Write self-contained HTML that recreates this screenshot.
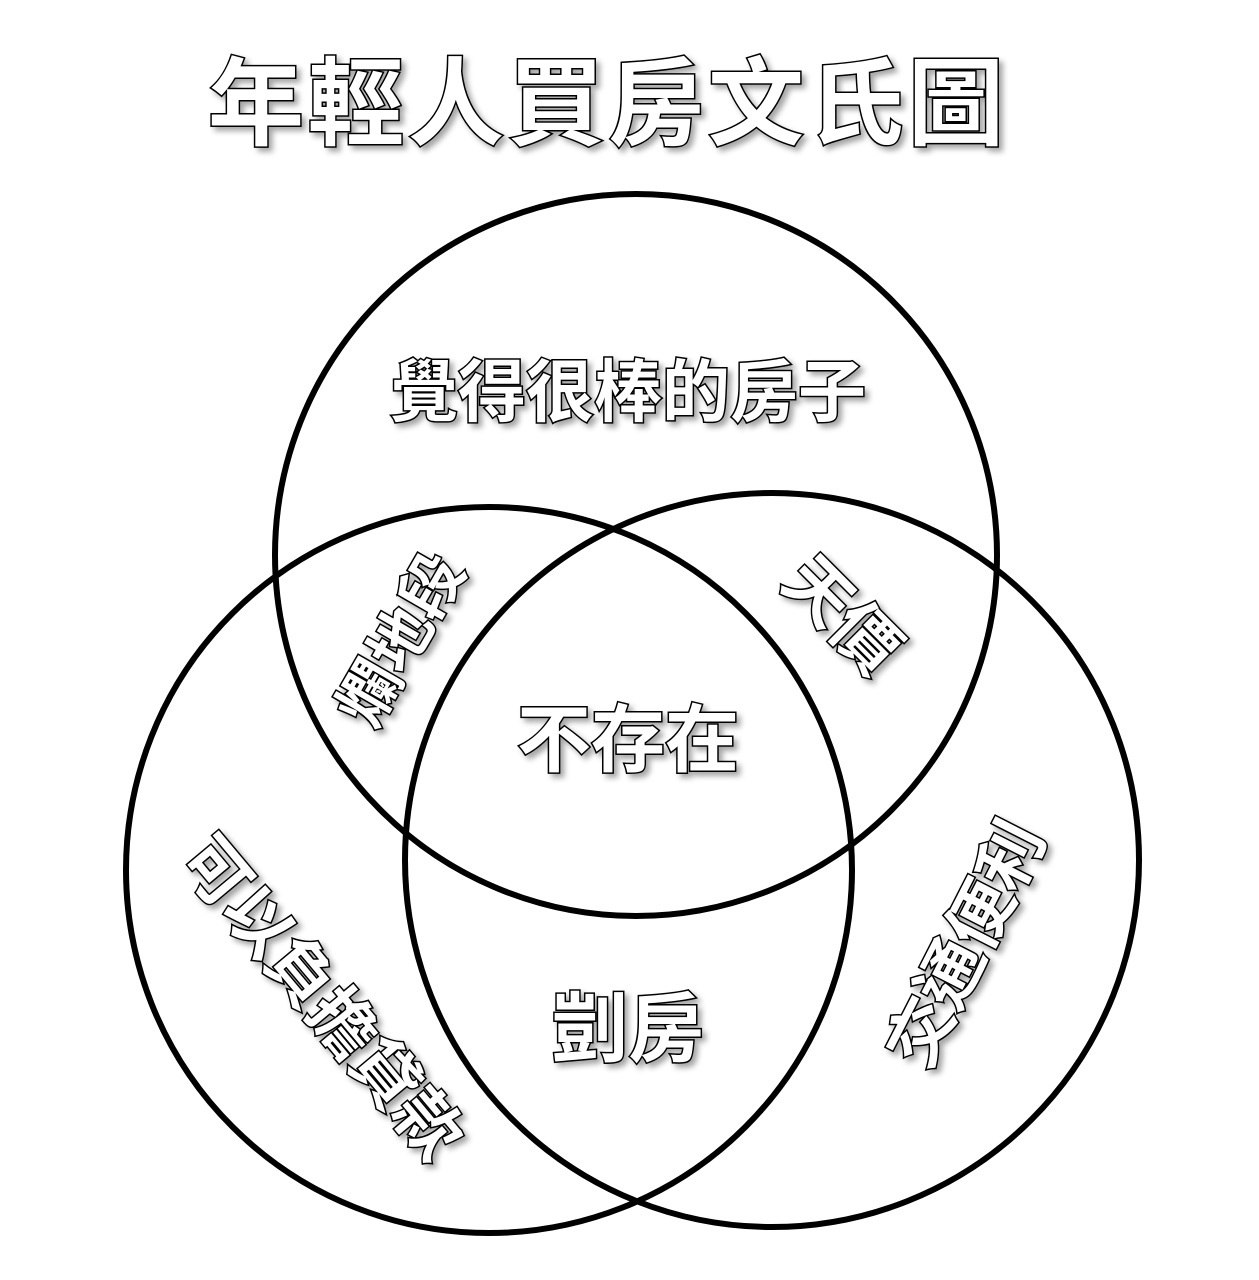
<!DOCTYPE html>
<html><head><meta charset="utf-8"><style>
html,body{margin:0;padding:0;background:#fff;}
svg{display:block;}
text{font-family:"Liberation Sans","Noto Sans CJK TC","Noto Sans CJK SC",sans-serif;font-weight:bold;fill:#fff;stroke:#000;stroke-width:3;paint-order:stroke;text-anchor:middle;dominant-baseline:central;}
</style></head><body>
<svg width="1259" height="1280" viewBox="0 0 1259 1280" xmlns="http://www.w3.org/2000/svg">
<defs><filter id="sh" x="-20%" y="-20%" width="140%" height="140%"><feDropShadow dx="4" dy="4" stdDeviation="3" flood-color="#000" flood-opacity="0.35"/></filter></defs>
<g fill="none" stroke="#000" stroke-width="6">
<circle cx="636" cy="555" r="361"/>
<circle cx="489" cy="870" r="363"/>
<circle cx="772" cy="860" r="367"/>
</g>
<g filter="url(#sh)">
<text x="608" y="105" font-size="96" stroke-width="5" letter-spacing="4">年輕人買房文氏圖</text>
<text x="628" y="393" font-size="68">覺得很棒的房子</text>
<text x="628" y="740" font-size="74">不存在</text>
<text x="628" y="1030" font-size="76">剴房</text>
<text x="0" y="0" font-size="66" transform="translate(842,615) rotate(45)">天價</text>
<text x="0" y="0" font-size="62" transform="translate(402,640) rotate(-60)">爛地段</text>
<text x="0" y="0" font-size="66" transform="translate(322,998) rotate(50)">可以負擔貸款</text>
<text x="0" y="0" font-size="66" transform="translate(966,944) rotate(-63)">交通便利</text>
</g>
</svg>
</body></html>
